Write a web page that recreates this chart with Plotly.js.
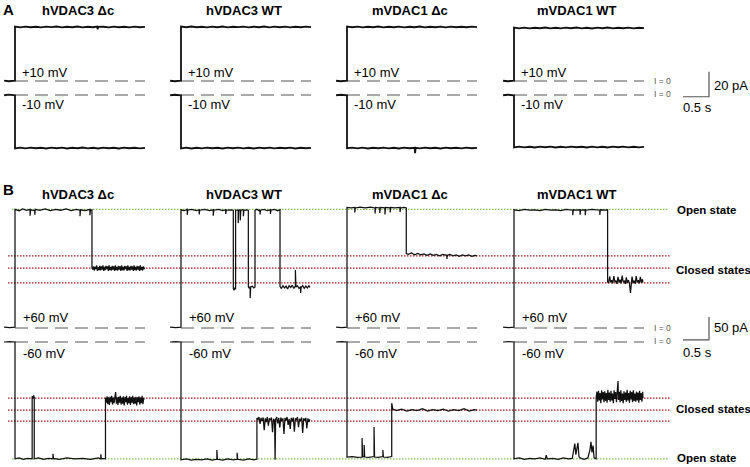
<!DOCTYPE html>
<html><head><meta charset="utf-8">
<script src="https://cdn.plot.ly/plotly-3.0.1.min.js"></script>
<style>html,body{margin:0;padding:0;background:#fff}#chart{width:750px;height:467px}</style>
</head><body><div id="chart"></div>
<script>
// ---------------- DATA ----------------
const columnNames = ['hVDAC3 \u0394c', 'hVDAC3 WT', 'mVDAC1 \u0394c', 'mVDAC1 WT'];
const voltageLabelsA = ['+10 mV', '-10 mV'];
const voltageLabelsB = ['+60 mV', '-60 mV'];
const zeroLabel = 'I = 0';
const stateLabels = ['Open state', 'Closed states'];
const zeroLineT = [0, 2.5];             // s
const zeroLineI = [0, 0];               // pA
const scaleBarA = {seconds: 0.5, pA: 20, label: ['0.5 s', '20 pA']};
const scaleBarB = {seconds: 0.5, pA: 50, label: ['0.5 s', '50 pA']};
const openLevelPos = 258;               // pA at +60 mV
const openLevelNeg = -254;              // pA at -60 mV
const closedLevelsPos = [157, 130, 98];
const closedLevelsNeg = [-122, -148, -172];

// Panel A, +10 mV traces [time s, current pA]
const A_pos_hV3dc = [[-0.21,0.3],[-0.12,-0.2],[0,0.2],[0,43.6],[0.1,42.9],[0.2,43.5],[0.3,43.0],[0.4,43.4],[0.5,42.9],[0.6,43.5],[0.7,43.1],[0.8,43.6],[0.9,42.9],[1.0,43.4],[1.1,43.0],[1.2,43.6],[1.3,42.9],[1.4,43.4],[1.5,43.0],[1.58,43.5],[1.59,41.4],[1.6,43.3],[1.7,43.4],[1.8,42.9],[1.9,43.5],[2.0,43.0],[2.1,43.4],[2.2,42.9],[2.3,43.5],[2.4,43.0],[2.5,43.3]];
const A_pos_hV3wt = [[-0.21,0.2],[-0.12,-0.2],[0,0.2],[0,43.5],[0.1,43.0],[0.2,43.6],[0.3,43.0],[0.4,43.4],[0.5,42.9],[0.6,43.5],[0.7,43.0],[0.8,43.6],[0.9,42.9],[1.0,43.4],[1.1,43.1],[1.2,43.5],[1.3,42.9],[1.4,43.4],[1.5,43.0],[1.6,43.6],[1.7,42.9],[1.8,43.5],[1.9,43.0],[2.0,43.5],[2.1,42.9],[2.2,43.4],[2.3,43.0],[2.4,43.5],[2.5,43.1]];
const A_pos_mV1dc = [[-0.21,0.2],[-0.12,-0.2],[0,0.2],[0,43.5],[0.1,43.0],[0.2,43.5],[0.3,42.9],[0.4,43.4],[0.5,43.0],[0.6,43.6],[0.7,42.9],[0.8,43.4],[0.9,43.0],[1.0,43.5],[1.1,42.9],[1.2,43.4],[1.3,43.0],[1.4,43.6],[1.5,42.9],[1.6,43.4],[1.7,43.0],[1.8,43.5],[1.9,42.9],[2.0,43.5],[2.1,43.0],[2.2,43.4],[2.3,43.0],[2.4,43.5],[2.5,43.1]];
const A_pos_mV1wt = [[-0.21,0.2],[-0.12,-0.2],[0,0.2],[0,42.7],[0.1,42.1],[0.2,42.7],[0.3,42.1],[0.4,42.6],[0.5,42.2],[0.6,42.8],[0.7,42.1],[0.8,42.6],[0.9,42.1],[1.0,42.7],[1.1,42.2],[1.2,42.8],[1.3,42.1],[1.4,42.6],[1.5,42.0],[1.6,42.7],[1.7,42.2],[1.8,42.8],[1.9,42.1],[2.0,42.6],[2.1,42.2],[2.2,42.7],[2.3,42.1],[2.4,42.6],[2.5,42.3]];
// Panel A, -10 mV traces
const A_neg_hV3dc = [[-0.21,-0.2],[-0.12,0.3],[0,-0.2],[0,-42.7],[0.1,-42.1],[0.2,-42.7],[0.3,-42.1],[0.4,-42.6],[0.5,-42.2],[0.6,-42.8],[0.7,-42.1],[0.8,-42.6],[0.9,-42.1],[1.0,-42.8],[1.1,-42.2],[1.2,-42.6],[1.3,-42.0],[1.4,-42.7],[1.5,-42.2],[1.6,-42.8],[1.7,-42.1],[1.8,-42.6],[1.9,-42.2],[2.0,-42.8],[2.1,-42.1],[2.2,-42.6],[2.3,-42.2],[2.4,-42.7],[2.5,-42.3]];
const A_neg_hV3wt = [[-0.21,-0.2],[-0.12,0.2],[0,-0.2],[0,-42.7],[0.1,-42.1],[0.2,-42.8],[0.3,-42.2],[0.4,-42.7],[0.5,-42.1],[0.6,-42.6],[0.7,-42.2],[0.8,-42.8],[0.9,-42.1],[1.0,-42.6],[1.1,-42.1],[1.2,-42.7],[1.3,-42.2],[1.4,-42.8],[1.5,-42.1],[1.6,-42.6],[1.7,-42.1],[1.8,-42.7],[1.9,-42.2],[2.0,-42.6],[2.1,-42.1],[2.2,-42.8],[2.3,-42.2],[2.4,-42.6],[2.5,-42.3]];
const A_neg_mV1dc = [[-0.21,-0.2],[-0.12,0.2],[0,-0.2],[0,-42.6],[0.1,-42.1],[0.2,-42.7],[0.3,-42.1],[0.4,-42.8],[0.5,-42.2],[0.6,-42.6],[0.7,-42.1],[0.8,-42.7],[0.9,-42.2],[1.0,-42.8],[1.1,-42.1],[1.2,-42.6],[1.3,-42.2],[1.31,-46.5],[1.32,-42.3],[1.4,-42.7],[1.5,-42.1],[1.6,-42.6],[1.7,-42.2],[1.8,-42.8],[1.9,-42.1],[2.0,-42.6],[2.1,-42.2],[2.2,-42.7],[2.3,-42.1],[2.4,-42.6],[2.5,-42.3]];
const A_neg_mV1wt = [[-0.21,-0.2],[-0.12,0.2],[0,-0.2],[0,-41.9],[0.1,-41.3],[0.2,-41.9],[0.3,-41.4],[0.4,-42.0],[0.5,-41.3],[0.6,-41.8],[0.7,-41.3],[0.8,-42.0],[0.9,-41.4],[1.0,-41.9],[1.1,-41.3],[1.2,-41.8],[1.3,-41.4],[1.4,-42.0],[1.5,-41.3],[1.6,-41.9],[1.7,-41.4],[1.8,-42.0],[1.9,-41.3],[2.0,-41.8],[2.1,-41.3],[2.2,-41.9],[2.3,-41.4],[2.4,-41.9],[2.5,-41.5]];

// Panel B, +60 mV traces
const B_pos_hV3dc = [[-0.21,2],[-0.1,1],[0,2],[0,258],[0.08,255],[0.15,259],[0.22,256],[0.29,258],[0.29,244],[0.3,257],[0.38,255],[0.38,246],[0.39,258],[0.48,256],[0.58,259],[0.68,255],[0.78,258],[0.88,256],[0.98,259],[1.08,255],[1.18,258],[1.25,256],[1.25,243],[1.26,257],[1.35,255],[1.44,258],[1.44,245],[1.45,256],[1.48,257],
  [1.48,131],[1.495,127],[1.51,134],[1.525,125],[1.54,133],[1.555,128],[1.57,136],[1.585,124],[1.60,132],[1.615,126],[1.63,135],[1.645,125],[1.66,134],[1.675,127],[1.69,136],[1.705,124],[1.72,133],[1.735,126],[1.75,135],[1.765,128],[1.78,134],[1.795,124],[1.81,136],[1.825,126],[1.84,133],[1.855,125],[1.87,135],[1.885,127],[1.90,134],[1.915,124],[1.93,136],[1.945,126],[1.96,133],[1.975,125],[1.99,135],[2.005,127],[2.02,134],[2.035,124],[2.05,136],[2.065,126],[2.08,133],[2.095,125],[2.11,135],[2.125,128],[2.14,134],[2.155,124],[2.17,136],[2.185,126],[2.20,133],[2.215,125],[2.23,135],[2.245,127],[2.26,134],[2.275,124],[2.29,136],[2.305,126],[2.32,133],[2.335,125],[2.35,135],[2.365,127],[2.38,134],[2.395,124],[2.41,136],[2.425,126],[2.44,133],[2.455,125],[2.47,134],[2.485,128],[2.49,131]];
const B_pos_hV3wt = [[-0.21,2],[-0.1,1],[0,2],[0,257],[0.06,255],[0.12,258],[0.12,246],[0.13,256],[0.2,258],[0.3,255],[0.35,257],[0.35,247],[0.36,256],[0.45,258],[0.55,255],[0.62,257],[0.62,244],[0.63,256],[0.72,258],[0.8,255],[0.86,257],[0.86,248],[0.87,256],[0.95,257],[1.006,256],[1.006,86],[1.02,82],[1.04,88],[1.05,84],[1.05,256],[1.08,257],[1.10,256],[1.10,228],[1.11,255],[1.13,257],[1.14,256],[1.14,234],[1.15,255],[1.18,257],[1.2,256],[1.2,243],[1.21,256],[1.26,257],[1.295,256],[1.295,90],[1.31,87],[1.33,90],[1.33,65],[1.34,89],[1.37,91],[1.40,87],[1.423,89],[1.423,256],[1.46,258],[1.5,255],[1.52,257],[1.52,247],[1.53,256],[1.6,258],[1.66,255],[1.72,257],[1.72,248],[1.73,256],[1.8,258],[1.86,255],[1.904,257],[1.904,90],[1.93,86],[1.96,92],[1.99,87],[2.02,91],[2.05,85],[2.08,92],[2.11,88],[2.14,93],[2.17,86],[2.2,91],[2.2,126],[2.21,89],[2.24,92],[2.27,86],[2.3,90],[2.3,76],[2.31,88],[2.34,92],[2.37,86],[2.40,91],[2.43,87],[2.46,92],[2.48,88]];
const B_pos_mV1dc = [[-0.21,2],[-0.1,1],[0,2],[0,262],[0.08,261],[0.15,262],[0.15,251],[0.16,261],[0.25,263],[0.35,261],[0.45,263],[0.54,261],[0.54,249],[0.55,262],[0.63,261],[0.63,250],[0.64,262],[0.73,261],[0.73,247],[0.74,262],[0.83,261],[0.83,251],[0.84,262],[0.92,261],[1.02,262],[1.02,252],[1.03,261],[1.1,262],[1.14,261],[1.14,162],[1.18,160],[1.24,163],[1.30,159],[1.36,162],[1.42,159],[1.48,161],[1.54,158],[1.60,161],[1.66,158],[1.72,160],[1.78,157],[1.84,160],[1.92,158],[1.92,150],[1.93,158],[1.98,160],[2.04,157],[2.10,159],[2.16,156],[2.22,159],[2.28,157],[2.34,159],[2.40,156],[2.46,158],[2.5,157]];
const B_pos_mV1wt = [[-0.21,2],[-0.1,1],[0,2],[0,257],[0.1,255],[0.2,258],[0.3,256],[0.4,257],[0.5,255],[0.6,258],[0.7,256],[0.8,257],[0.9,255],[1.0,258],[1.13,256],[1.13,245],[1.14,257],[1.2,256],[1.27,257],[1.27,246],[1.28,256],[1.37,257],[1.37,245],[1.38,256],[1.5,258],[1.65,256],[1.65,246],[1.66,257],[1.75,256],[1.8,257],[1.8,100],[1.82,98],[1.84,112],[1.86,99],[1.88,104],[1.90,97],[1.92,113],[1.94,100],[1.96,103],[1.98,96],[2.00,111],[2.02,99],[2.04,105],[2.06,97],[2.08,114],[2.10,100],[2.12,102],[2.14,96],[2.16,110],[2.18,98],[2.20,104],[2.22,97],[2.24,76],[2.25,99],[2.27,112],[2.29,98],[2.31,103],[2.33,96],[2.35,113],[2.37,99],[2.39,104],[2.41,97],[2.43,111],[2.45,98],[2.47,106],[2.48,99]];
// Panel B, -60 mV traces
const B_neg_hV3dc = [[-0.21,0],[-0.1,1],[0,0],[0,-254],[0.08,-252],[0.16,-255],[0.24,-253],[0.33,-254],[0.33,-118],[0.345,-123],[0.36,-116],[0.37,-121],[0.37,-254],[0.45,-252],[0.55,-255],[0.64,-253],[0.73,-254],[0.73,-243],[0.74,-253],[0.85,-255],[1.0,-252],[1.15,-254],[1.3,-253],[1.45,-255],[1.6,-252],[1.65,-254],[1.65,-244],[1.66,-253],[1.74,-254],
  [1.74,-121],[1.755,-132],[1.77,-118],[1.785,-135],[1.80,-120],[1.815,-137],[1.83,-119],[1.845,-131],[1.86,-117],[1.875,-136],[1.89,-121],[1.905,-133],[1.92,-118],[1.935,-109],[1.95,-134],[1.965,-120],[1.98,-137],[1.995,-119],[2.01,-132],[2.025,-117],[2.04,-136],[2.055,-121],[2.07,-134],[2.085,-118],[2.10,-138],[2.115,-120],[2.13,-131],[2.145,-117],[2.16,-136],[2.175,-122],[2.19,-133],[2.205,-118],[2.22,-137],[2.235,-120],[2.25,-132],[2.265,-117],[2.28,-135],[2.295,-121],[2.31,-134],[2.325,-119],[2.34,-138],[2.355,-120],[2.37,-131],[2.385,-118],[2.40,-136],[2.415,-121],[2.43,-133],[2.445,-117],[2.46,-135],[2.475,-122],[2.48,-126]];
const B_neg_hV3wt = [[-0.21,0],[-0.1,1],[0,0],[0,-256],[0.1,-254],[0.2,-257],[0.3,-255],[0.4,-256],[0.5,-254],[0.6,-257],[0.69,-255],[0.69,-235],[0.7,-255],[0.8,-257],[0.9,-254],[1.0,-256],[1.08,-255],[1.08,-241],[1.09,-255],[1.2,-257],[1.3,-254],[1.4,-256],[1.46,-255],[1.46,-165],[1.48,-168],[1.50,-163],[1.52,-178],[1.54,-165],[1.56,-172],[1.58,-164],[1.60,-192],[1.62,-166],[1.64,-174],[1.66,-163],[1.68,-182],[1.70,-166],[1.72,-170],[1.74,-164],[1.76,-196],[1.78,-167],[1.80,-171],[1.81,-256],[1.82,-168],[1.84,-163],[1.86,-177],[1.88,-165],[1.90,-186],[1.92,-164],[1.94,-172],[1.96,-166],[1.98,-200],[2.00,-165],[2.02,-171],[2.04,-163],[2.06,-180],[2.08,-167],[2.10,-189],[2.12,-165],[2.14,-173],[2.16,-164],[2.18,-195],[2.20,-166],[2.22,-170],[2.24,-163],[2.26,-185],[2.28,-167],[2.30,-172],[2.32,-164],[2.34,-198],[2.36,-166],[2.38,-171],[2.40,-165],[2.42,-188],[2.44,-166],[2.46,-174],[2.48,-168]];
const B_neg_mV1dc = [[-0.21,0],[-0.1,1],[0,0],[0,-250],[0.1,-249],[0.2,-251],[0.29,-250],[0.29,-209],[0.30,-250],[0.33,-249],[0.33,-224],[0.34,-250],[0.42,-251],[0.52,-249],[0.52,-185],[0.53,-250],[0.6,-251],[0.69,-249],[0.69,-235],[0.7,-250],[0.78,-251],[0.86,-249],[0.86,-133],[0.88,-146],[0.95,-149],[1.05,-146],[1.15,-150],[1.25,-147],[1.35,-149],[1.45,-145],[1.55,-150],[1.65,-147],[1.75,-149],[1.85,-146],[1.95,-150],[2.05,-147],[2.15,-149],[2.25,-145],[2.35,-150],[2.45,-147],[2.5,-148]];
const B_neg_mV1wt = [[-0.21,0],[-0.1,1],[0,0],[0,-254],[0.1,-252],[0.2,-255],[0.3,-253],[0.4,-254],[0.5,-252],[0.6,-255],[0.62,-246],[0.64,-254],[0.75,-253],[0.85,-255],[0.95,-252],[1.05,-254],[1.12,-253],[1.15,-238],[1.17,-221],[1.19,-245],[1.21,-230],[1.23,-219],[1.25,-250],[1.29,-253],[1.35,-255],[1.42,-252],[1.46,-235],[1.48,-217],[1.50,-240],[1.52,-225],[1.54,-252],[1.58,-254],
  [1.58,-120],[1.595,-108],[1.61,-130],[1.625,-106],[1.64,-127],[1.655,-111],[1.67,-133],[1.685,-105],[1.70,-125],[1.715,-109],[1.73,-131],[1.745,-107],[1.76,-128],[1.775,-111],[1.79,-132],[1.805,-104],[1.82,-126],[1.835,-110],[1.85,-130],[1.865,-106],[1.88,-127],[1.895,-112],[1.91,-133],[1.925,-105],[1.94,-124],[1.955,-109],[1.97,-131],[1.985,-107],[2.00,-85],[2.01,-126],[2.025,-108],[2.04,-131],[2.055,-105],[2.07,-128],[2.085,-112],[2.10,-133],[2.115,-107],[2.13,-126],[2.145,-110],[2.16,-130],[2.175,-104],[2.19,-127],[2.205,-111],[2.22,-132],[2.235,-106],[2.25,-125],[2.265,-109],[2.28,-131],[2.295,-105],[2.31,-128],[2.325,-112],[2.34,-130],[2.355,-108],[2.37,-127],[2.385,-110],[2.40,-132],[2.415,-106],[2.43,-126],[2.445,-111],[2.46,-130],[2.475,-108],[2.48,-122]];

const tracesA_pos = [A_pos_hV3dc, A_pos_hV3wt, A_pos_mV1dc, A_pos_mV1wt];
const tracesA_neg = [A_neg_hV3dc, A_neg_hV3wt, A_neg_mV1dc, A_neg_mV1wt];
const tracesB_pos = [B_pos_hV3dc, B_pos_hV3wt, B_pos_mV1dc, B_pos_mV1wt];
const tracesB_neg = [B_neg_hV3dc, B_neg_hV3wt, B_neg_mV1dc, B_neg_mV1wt];

// ---------------- LAYOUT GEOMETRY (pixels) ----------------
const W = 750, H = 467;
const colStepPx = [15, 181, 347, 514];
const colLeftPx = [1, 167, 333, 500];
const colRightPx = [167, 333, 499, 750];
const pxPerSec = 52;
const yAxesSpec = [ // zero line px, px per pA, top px, bottom px
  {zero: 81, s: 1.25, top: 12, bottom: 100},
  {zero: 95, s: 1.25, top: 85, bottom: 165},
  {zero: 328, s: 0.46, top: 196, bottom: 348},
  {zero: 342, s: 0.46, top: 325, bottom: 467}
];
const fx = px => px / W;
const fy = py => 1 - py / H;
const FONT = 'Liberation Sans, Arial, sans-serif';

const layout = {
  width: W, height: H, margin: {l: 0, r: 0, t: 0, b: 0},
  paper_bgcolor: '#fff', plot_bgcolor: 'rgba(0,0,0,0)',
  showlegend: false, hovermode: false,
  font: {family: FONT, color: '#000'},
  shapes: [], annotations: []
};
const xNames = ['x', 'x2', 'x3', 'x4'];
colStepPx.forEach((st, i) => {
  layout[i === 0 ? 'xaxis' : 'xaxis' + (i + 1)] = {
    visible: false, fixedrange: true,
    domain: [fx(colLeftPx[i]), fx(colRightPx[i])],
    range: [(colLeftPx[i] - st) / pxPerSec, (colRightPx[i] - st) / pxPerSec],
    anchor: 'y'
  };
});
yAxesSpec.forEach((a, i) => {
  layout[i === 0 ? 'yaxis' : 'yaxis' + (i + 1)] = {
    visible: false, fixedrange: true,
    domain: [fy(a.bottom), fy(a.top)],
    range: [-(a.bottom - a.zero) / a.s, (a.zero - a.top) / a.s],
    anchor: 'x'
  };
});

const data = [];
const traceLine = (pairs, xa, ya, w) => ({
  type: 'scatter', mode: 'lines', xaxis: xa, yaxis: ya,
  x: pairs.map(p => p[0]), y: pairs.map(p => p[1]),
  line: {color: '#111', width: w}, hoverinfo: 'skip'
});
const zeroLine = (xa, ya) => ({
  type: 'scatter', mode: 'lines', xaxis: xa, yaxis: ya,
  x: zeroLineT, y: zeroLineI,
  line: {color: '#555', width: 1, dash: '13px,7px'}, hoverinfo: 'skip'
});

for (let i = 0; i < 4; i++) {
  data.push(zeroLine(xNames[i], 'y'));
  data.push(zeroLine(xNames[i], 'y2'));
  data.push(zeroLine(xNames[i], 'y3'));
  data.push(zeroLine(xNames[i], 'y4'));
  data.push(traceLine(tracesA_pos[i], xNames[i], 'y', 1.8));
  data.push(traceLine(tracesA_neg[i], xNames[i], 'y2', 1.8));
  data.push(traceLine(tracesB_pos[i], xNames[i], 'y3', 1.25));
  data.push(traceLine(tracesB_neg[i], xNames[i], 'y4', 1.25));
}

// Scale bars (on column-4 time axis)
const sbT0 = (683 - colStepPx[3]) / pxPerSec;
function scaleBar(sb, ya, i0) {
  data.push({
    type: 'scatter', mode: 'lines', xaxis: 'x4', yaxis: ya,
    x: [sbT0, sbT0 + sb.seconds, sbT0 + sb.seconds],
    y: [i0, i0, i0 + sb.pA],
    line: {color: '#555', width: 1.2}, hoverinfo: 'skip'
  });
}
scaleBar(scaleBarA, 'y', -12.6);
scaleBar(scaleBarB, 'y3', -26);

// Reference state lines in panel B
function hline(ya, val, color, x0px, x1px) {
  layout.shapes.push({type: 'line', xref: 'paper', yref: ya, layer: 'below',
    x0: fx(x0px), x1: fx(x1px), y0: val, y1: val,
    line: {color: color, width: 1.2, dash: '1.5px,1.5px'}});
}
const GREEN = '#7cc44e', RED = '#a3161b';
hline('y3', openLevelPos, GREEN, 12, 669);
closedLevelsPos.forEach(v => hline('y3', v, RED, 8, 670));
hline('y4', openLevelNeg, GREEN, 12, 669);
closedLevelsNeg.forEach(v => hline('y4', v, RED, 8, 670));

// ---------------- TEXT ----------------
function txt(text, xpx, ypx, size, opts) {
  layout.annotations.push(Object.assign({
    text: text, xref: 'paper', yref: 'paper', x: fx(xpx), y: fy(ypx),
    xanchor: 'left', yanchor: 'middle', showarrow: false,
    font: {family: FONT, size: size, color: '#000'}
  }, opts || {}));
}
txt('<b>A</b>', 1, 9, 15);
txt('<b>B</b>', 1, 190, 15);
colStepPx.forEach((st, i) => {
  txt('<b>' + columnNames[i] + '</b>', st + 63, 11, 13, {xanchor: 'center'});
  txt('<b>' + columnNames[i] + '</b>', st + 63, 194, 13, {xanchor: 'center'});
  txt(voltageLabelsA[0], st + 5, 72, 13);
  txt(voltageLabelsA[1], st + 5, 104, 13);
  txt(voltageLabelsB[0], st + 6, 317, 13);
  txt(voltageLabelsB[1], st + 6, 353, 13);
});
[81, 94, 328, 341].forEach(py => txt(zeroLabel, 652, py, 8.5, {font: {family: FONT, size: 8.5, color: '#555'}}));
txt(scaleBarA.label[1], 712, 85, 13);
txt(scaleBarA.label[0], 681, 108, 13);
txt(scaleBarB.label[1], 712, 327, 13);
txt(scaleBarB.label[0], 681, 352, 13);
txt('<b>' + stateLabels[0] + '</b>', 675, 210, 11.5);
txt('<b>' + stateLabels[1] + '</b>', 674, 270, 11.5);
txt('<b>' + stateLabels[1] + '</b>', 674, 409, 11.5);
txt('<b>' + stateLabels[0] + '</b>', 675, 458, 11.5);

Plotly.newPlot('chart', data, layout, {staticPlot: true, displayModeBar: false});
</script>
</body></html>
